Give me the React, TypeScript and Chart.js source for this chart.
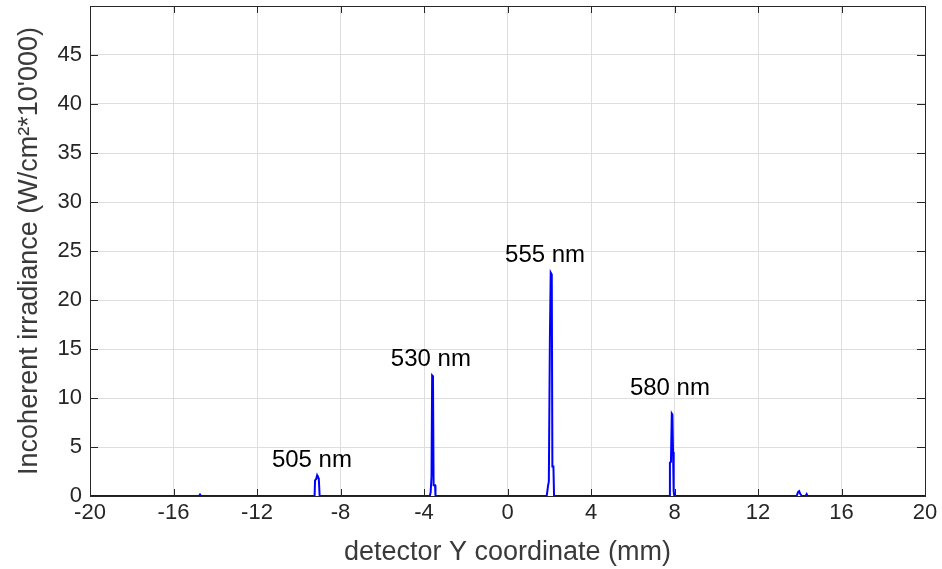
import React, { useEffect, useRef } from "react";
import { Chart, registerables } from "chart.js";

Chart.register(...registerables);

// Detector Y coordinate (mm) and incoherent irradiance (W/cm^2 * 10'000)
const xValues: number[] = [
  -20, -14.78, -14.73, -14.68,
  -9.24, -9.22, -9.17, -9.12, -9.08, -9.04, -9.0,
  -3.72, -3.68, -3.64, -3.61, -3.57, -3.54, -3.47, -3.45,
  1.88, 1.94, 1.98, 2.03, 2.07, 2.12, 2.15, 2.2, 2.23,
  7.74, 7.78, 7.83, 7.87, 7.9, 7.93, 7.96, 7.99,
  13.85, 13.92, 13.97, 14.03, 14.1, 14.28, 14.33, 14.38,
  20,
];
const yValues: number[] = [
  0, 0, 0.15, 0,
  0, 1.6, 1.7, 2.1, 1.9, 1.8, 0,
  0, 0.4, 2.0, 12.3, 12.2, 1.1, 1.1, 0,
  0, 1.0, 1.5, 15.9, 22.8, 22.6, 3.0, 3.0, 0,
  0, 3.4, 3.5, 8.4, 8.3, 4.5, 0.5, 0,
  0, 0.4, 0.5, 0.2, 0, 0, 0.2, 0,
  0,
];

const peakLabels: string[] = ["505 nm", "530 nm", "555 nm", "580 nm"];
const peakLabelX: number[] = [-9.37, -3.67, 1.8, 7.78];
const peakLabelY: number[] = [3.6, 13.9, 24.6, 11.0];

const xTicks: number[] = [-20, -16, -12, -8, -4, 0, 4, 8, 12, 16, 20];
const yTicks: number[] = [0, 5, 10, 15, 20, 25, 30, 35, 40, 45];

const FONT = "'Liberation Sans', Arial, Helvetica, sans-serif";

const framePlugin = {
  id: "frameAndLabels",
  afterDatasetsDraw(chart: any) {
    const { ctx, chartArea, scales } = chart;
    const xs = scales.x;
    const ys = scales.y;
    ctx.save();
    // inner tick marks
    ctx.strokeStyle = "#262626";
    ctx.lineWidth = 1;
    ctx.beginPath();
    xTicks.forEach((t) => {
      const px = Math.round(xs.getPixelForValue(t)) + 0.5;
      ctx.moveTo(px, chartArea.bottom);
      ctx.lineTo(px, chartArea.bottom - 7);
      ctx.moveTo(px, chartArea.top);
      ctx.lineTo(px, chartArea.top + 7);
    });
    yTicks.forEach((t) => {
      const py = Math.round(ys.getPixelForValue(t)) + 0.5;
      ctx.moveTo(chartArea.left, py);
      ctx.lineTo(chartArea.left + 8, py);
      ctx.moveTo(chartArea.right, py);
      ctx.lineTo(chartArea.right - 8, py);
    });
    ctx.stroke();
    // frame
    ctx.strokeStyle = "#262626";
    ctx.lineWidth = 1;
    ctx.strokeRect(
      Math.round(chartArea.left) + 0.5,
      Math.round(chartArea.top) + 0.5,
      Math.round(chartArea.right - chartArea.left),
      Math.round(chartArea.bottom - chartArea.top)
    );
    // peak labels
    ctx.fillStyle = "#000000";
    ctx.font = `24px ${FONT}`;
    ctx.textAlign = "center";
    ctx.textBaseline = "middle";
    peakLabels.forEach((label, i) => {
      ctx.fillText(
        label,
        xs.getPixelForValue(peakLabelX[i]),
        ys.getPixelForValue(peakLabelY[i])
      );
    });
    ctx.restore();
  },
};

export default function App() {
  const canvasRef = useRef<HTMLCanvasElement | null>(null);

  useEffect(() => {
    document.body.style.margin = "0";
    const canvas = canvasRef.current;
    if (!canvas) return;
    const points = xValues.map((x, i) => ({ x, y: yValues[i] }));
    const chart = new Chart(canvas, {
      type: "line",
      data: {
        datasets: [
          {
            data: points,
            borderColor: "#0000ff",
            borderWidth: 2,
            pointRadius: 0,
            tension: 0,
            fill: false,
            clip: false as any,
          },
        ],
      },
      options: {
        animation: false,
        responsive: false,
        maintainAspectRatio: false,
        layout: { padding: { top: 6, right: 17, left: 0, bottom: 0 } },
        plugins: {
          legend: { display: false },
          tooltip: { enabled: false },
        },
        scales: {
          x: {
            type: "linear",
            min: -20,
            max: 20,
            afterBuildTicks: (scale: any) => {
              scale.ticks = xTicks.map((v) => ({ value: v }));
            },
            afterFit: (scale: any) => {
              scale.height = 73;
              scale.paddingLeft = 0;
              scale.paddingRight = 0;
            },
            ticks: {
              autoSkip: false,
              maxRotation: 0,
              padding: 4,
              color: "#262626",
              font: { family: FONT, size: 22 },
            },
            grid: {
              color: "#dedede",
              drawTicks: false,
              lineWidth: 1,
            },
            border: { display: false },
            title: {
              display: true,
              text: "detector Y coordinate (mm)",
              color: "#3a3a3a",
              font: { family: FONT, size: 27 },
              padding: { top: 10, bottom: 0 },
            },
          },
          y: {
            type: "linear",
            min: 0,
            max: 50,
            afterBuildTicks: (scale: any) => {
              scale.ticks = yTicks.map((v) => ({ value: v }));
            },
            afterFit: (scale: any) => {
              scale.width = 90;
              scale.paddingTop = 0;
              scale.paddingBottom = 0;
            },
            ticks: {
              autoSkip: false,
              padding: 8,
              color: "#262626",
              font: { family: FONT, size: 22 },
            },
            grid: {
              color: "#dedede",
              drawTicks: false,
              lineWidth: 1,
            },
            border: { display: false },
            title: {
              display: true,
              text: "Incoherent irradiance (W/cm²*10'000)",
              color: "#3a3a3a",
              font: { family: FONT, size: 27 },
              padding: { top: 13, bottom: 0 },
            },
          },
        },
      },
      plugins: [framePlugin],
    });
    return () => {
      chart.destroy();
    };
  }, []);

  return (
    <div style={{ position: "fixed", left: 0, top: 0, width: 942, height: 569, background: "#ffffff" }}>
      <canvas ref={canvasRef} width={942} height={569} />
    </div>
  );
}
